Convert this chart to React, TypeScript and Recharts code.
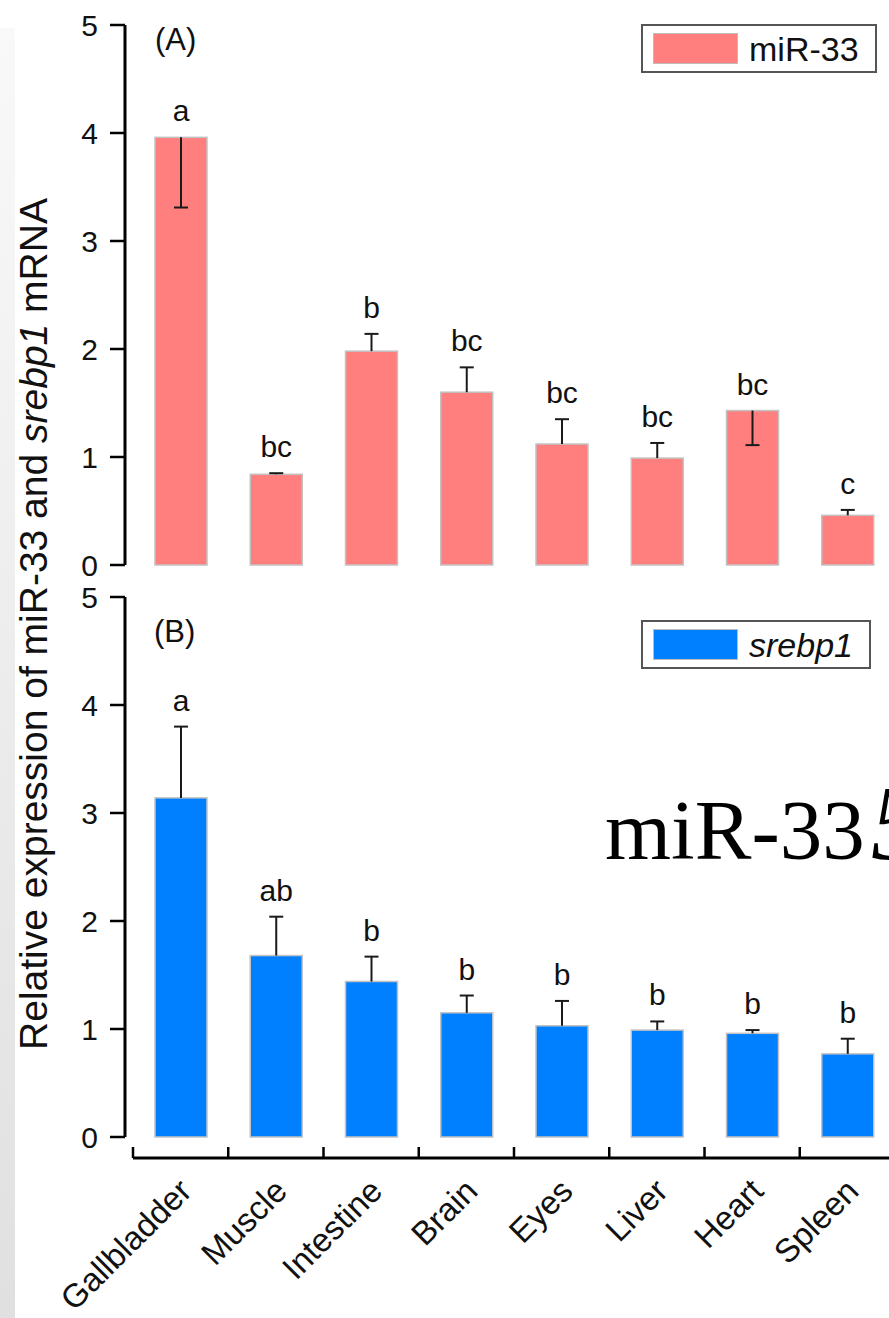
import React from "react";
import { Bar, BarChart, Legend, XAxis, YAxis } from "recharts";

// tissues on the shared x axis
const tissues = ["Gallbladder", "Muscle", "Intestine", "Brain", "Eyes", "Liver", "Heart", "Spleen"];
const yTicks = [0, 1, 2, 3, 4, 5];

// (A) miR-33
const mir33Mean = [3.96, 0.84, 1.98, 1.6, 1.12, 0.99, 1.43, 0.46];
const mir33ErrUp = [0, 0.01, 0.16, 0.23, 0.23, 0.14, 0, 0.05];
const mir33ErrDown = [0.65, 0, 0, 0, 0, 0, 0.32, 0];
const mir33Sig = ["a", "bc", "b", "bc", "bc", "bc", "bc", "c"];

// (B) srebp1
const srebpMean = [3.14, 1.68, 1.44, 1.15, 1.03, 0.99, 0.96, 0.77];
const srebpErrUp = [0.66, 0.36, 0.23, 0.16, 0.23, 0.08, 0.03, 0.14];
const srebpErrDown = [0, 0, 0, 0, 0, 0, 0, 0];
const srebpSig = ["a", "ab", "b", "b", "b", "b", "b", "b"];

const SANS = "'Liberation Sans', Arial, sans-serif";
const SERIF = "'Liberation Serif', 'Times New Roman', serif";

const build = (mean: number[], up: number[], down: number[], sig: string[]) =>
  tissues.map((tissue, i) => ({ tissue, value: mean[i], errUp: up[i], errDown: down[i], sig: sig[i] }));

const mir33Data = build(mir33Mean, mir33ErrUp, mir33ErrDown, mir33Sig);
const srebpData = build(srebpMean, srebpErrUp, srebpErrDown, srebpSig);

// bar + one-sided whisker + significance letter, scaled from the bar's own height
function BarWithError(props: any) {
  const { x, y, width, height, payload, fill } = props;
  const ppu = Math.abs(height) / payload.value;
  const cx = x + width / 2;
  const upY = y - payload.errUp * ppu;
  const downY = y + payload.errDown * ppu;
  const cap = 7;
  return (
    <g>
      <rect x={x} y={y} width={width} height={height} fill={fill} stroke="#c2c2c2" strokeWidth={1.5} />
      {payload.errUp > 0 && (
        <g stroke="#1a1a1a" strokeWidth={2}>
          <line x1={cx} x2={cx} y1={y} y2={upY} />
          <line x1={cx - cap} x2={cx + cap} y1={upY} y2={upY} />
        </g>
      )}
      {payload.errDown > 0 && (
        <g stroke="#1a1a1a" strokeWidth={2}>
          <line x1={cx} x2={cx} y1={y} y2={downY} />
          <line x1={cx - cap} x2={cx + cap} y1={downY} y2={downY} />
        </g>
      )}
      <text x={cx} y={upY - 16} textAnchor="middle" fontSize={30} fontFamily={SANS} fill="#111">
        {payload.sig}
      </text>
    </g>
  );
}

function ValueTick({ x, y, payload }: any) {
  return (
    <text
      x={x}
      y={y}
      dy="0.36em"
      textAnchor="end"
      fontFamily={SANS}
      fill="#111"
      style={{ fontSize: 30 }}
    >
      {payload.value}
    </text>
  );
}

// category label plus an inward tick mark on the band boundaries
function TissueTick({ x, y, payload, index, visibleTicksCount }: any) {
  const half = payload.offset ?? 0;
  const last = index === (visibleTicksCount ?? tissues.length) - 1;
  return (
    <g>
      <line x1={x - half} x2={x - half} y1={y} y2={y - 11} stroke="#000" strokeWidth={2.5} />
      {last && <line x1={x + half} x2={x + half} y1={y} y2={y - 11} stroke="#000" strokeWidth={2.5} />}
      <text
        transform={`translate(${x + 13},${y + 35}) rotate(-45)`}
        textAnchor="end"
        fontSize={33}
        fontFamily={SANS}
        fill="#111"
      >
        {payload.value}
      </text>
    </g>
  );
}

function LegendBox({ payload, italic }: any) {
  const item = payload && payload[0];
  if (!item) return null;
  return (
    <div
      style={{
        display: "inline-flex",
        alignItems: "center",
        boxSizing: "border-box",
        height: 49,
        padding: "0 16px 0 10px",
        border: "2px solid #555",
        background: "#fff",
      }}
    >
      <span
        style={{
          display: "inline-block",
          width: 85,
          height: 31,
          boxSizing: "border-box",
          background: item.color,
          border: "1px solid #bdbdbd",
        }}
      />
      <span
        style={{
          marginLeft: 11,
          fontSize: 34,
          lineHeight: 1,
          fontFamily: SANS,
          fontStyle: italic ? "italic" : "normal",
          color: "#111",
        }}
      >
        {item.value}
      </span>
    </div>
  );
}

const yAxisProps = {
  yAxisId: "val",
  width: 100,
  domain: [0, 5] as [number, number],
  ticks: yTicks,
  interval: 0 as const,
  tickSize: 15,
  tickMargin: 12,
  axisLine: { stroke: "#000", strokeWidth: 3 },
  tickLine: { stroke: "#000", strokeWidth: 2.5 },
  tick: <ValueTick />,
};

export default function App() {
  return (
    <div
      style={{
        position: "fixed",
        left: 0,
        top: 0,
        width: 889,
        height: 1318,
        overflow: "hidden",
        background: "#fff",
      }}
    >
      <div style={{ position: "absolute", left: 0, top: 0 }}>
        <BarChart width={900} height={600} data={mir33Data} margin={{ top: 25, right: 5, bottom: 35, left: 25 }}>
          <XAxis xAxisId="cat" dataKey="tissue" hide />
          <YAxis yAxisId="pad" width={8} domain={[0, 5]} axisLine={false} tickLine={false} tick={false} />
          <YAxis {...yAxisProps} />
          <Legend
            layout="vertical"
            align="center"
            verticalAlign="middle"
            wrapperStyle={{ left: 641, top: 24, width: "auto" }}
            content={(p: any) => <LegendBox {...p} />}
          />
          <Bar
            xAxisId="cat"
            yAxisId="val"
            dataKey="value"
            name="miR-33"
            fill="#ff7f7f"
            barSize={52}
            shape={<BarWithError />}
            isAnimationActive={false}
          />
        </BarChart>
      </div>

      <div style={{ position: "absolute", left: 0, top: 580 }}>
        <BarChart width={900} height={738} data={srebpData} margin={{ top: 17, right: 5, bottom: 9, left: 25 }}>
          <XAxis xAxisId="cat" dataKey="tissue" height={21} axisLine={false} tickLine={false} tick={false} />
          <XAxis
            xAxisId="lbl"
            dataKey="tissue"
            height={151}
            interval={0}
            axisLine={{ stroke: "#000", strokeWidth: 3 }}
            tickLine={false}
            tickSize={0}
            tickMargin={0}
            tick={<TissueTick />}
          />
          <YAxis yAxisId="pad" width={8} domain={[0, 5]} axisLine={false} tickLine={false} tick={false} />
          <YAxis {...yAxisProps} />
          <Legend
            layout="vertical"
            align="center"
            verticalAlign="middle"
            wrapperStyle={{ left: 641, top: 40, width: "auto" }}
            content={(p: any) => <LegendBox {...p} italic />}
          />
          <Bar
            xAxisId="cat"
            yAxisId="val"
            dataKey="value"
            name="srebp1"
            fill="#0080ff"
            barSize={52}
            shape={<BarWithError />}
            isAnimationActive={false}
          />
        </BarChart>
      </div>

      <svg
        width={889}
        height={1318}
        style={{ position: "absolute", left: 0, top: 0, pointerEvents: "none" }}
      >
        <defs>
          <linearGradient id="edgeStrip" x1="0" x2="0" y1="0" y2="1">
            <stop offset="0%" stopColor="#f9f9f9" />
            <stop offset="100%" stopColor="#e0e0e0" />
          </linearGradient>
        </defs>
        <rect x={0} y={28} width={15} height={1290} fill="url(#edgeStrip)" />
        <text
          transform="translate(47,624) rotate(-90)"
          textAnchor="middle"
          fontSize={39}
          fontFamily={SANS}
          fill="#111"
        >
          Relative expression of miR-33 and <tspan fontStyle="italic">srebp1</tspan> mRNA
        </text>
        <text x={155} y={50} fontSize={31} fontFamily={SANS} fill="#111">
          (A)
        </text>
        <text x={154} y={642} fontSize={31} fontFamily={SANS} fill="#111">
          (B)
        </text>
        <text x={605} y={859} fontSize={85} fontFamily={SERIF} fill="#000">
          miR-33<tspan fontStyle="italic" fontSize={106} dx={6}>5</tspan>
        </text>
      </svg>
    </div>
  );
}
